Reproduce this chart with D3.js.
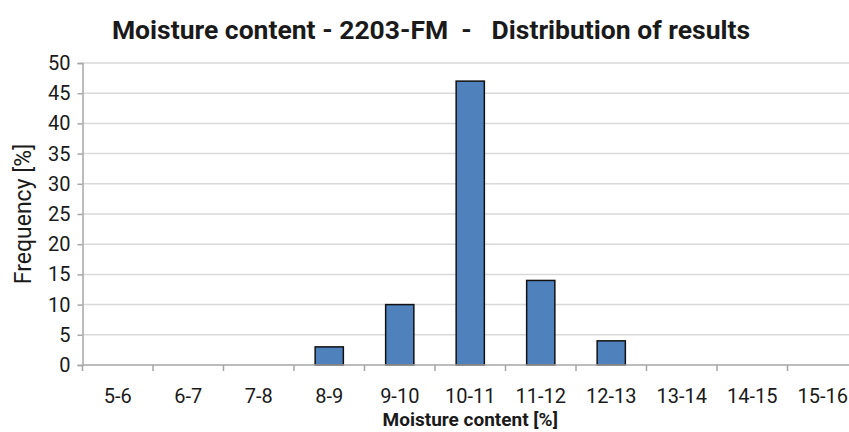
<!DOCTYPE html>
<html>
<head>
<meta charset="utf-8">
<script src="https://cdn.jsdelivr.net/npm/d3@7"></script>
<style>
  body { margin: 0; background: #fff; }
  text { font-family: Roboto, "Liberation Sans", sans-serif; fill: #1a1a1a; }
</style>
</head>
<body>
<div id="chart"></div>
<script>
// Data
const categories = ["5-6", "6-7", "7-8", "8-9", "9-10", "10-11", "11-12", "12-13", "13-14", "14-15", "15-16"];
const frequency = [0, 0, 0, 3, 10, 47, 14, 4, 0, 0, 0];
const yTicks = [0, 5, 10, 15, 20, 25, 30, 35, 40, 45, 50];

const width = 849;
const height = 432;
// the original plot area runs past the right edge of the picture
const margin = { top: 63, right: -9, bottom: 67, left: 82.5 };

const svg = d3.select("#chart")
    .append("svg")
    .attr("width", width)
    .attr("height", height);

const xScale = d3.scaleBand()
    .domain(categories)
    .range([margin.left, width - margin.right])
    .paddingInner(0.6)
    .paddingOuter(0.3);

const yScale = d3.scaleLinear()
    .domain([0, 50])
    .range([height - margin.bottom, margin.top]);

// Horizontal gridlines
svg.append("g")
    .selectAll("line")
    .data(yTicks.filter(d => d > 0))
    .enter()
    .append("line")
    .attr("x1", margin.left)
    .attr("x2", width - margin.right)
    .attr("y1", d => yScale(d))
    .attr("y2", d => yScale(d))
    .attr("stroke", "#d9d9d9")
    .attr("stroke-width", 1.5);

// Bars (empty classes draw nothing)
const bars = categories.map((c, i) => ({ cat: c, value: frequency[i] }));
svg.append("g")
    .selectAll("rect")
    .data(bars.filter(d => d.value > 0))
    .enter()
    .append("rect")
    .attr("x", d => xScale(d.cat))
    .attr("y", d => yScale(d.value))
    .attr("width", xScale.bandwidth())
    .attr("height", d => yScale(0) - yScale(d.value))
    .attr("fill", "#4f81bd")
    .attr("stroke", "#111")
    .attr("stroke-width", 1.5);

// Y axis
const yAxis = d3.axisLeft(yScale)
    .tickValues(yTicks)
    .tickSize(5)
    .tickPadding(7);
const gy = svg.append("g")
    .attr("transform", `translate(${margin.left},0)`)
    .call(yAxis);
gy.select(".domain").attr("stroke", "#a6a6a6").attr("stroke-width", 1.5);
gy.selectAll(".tick line").attr("stroke", "#a6a6a6").attr("stroke-width", 1.5);
gy.selectAll(".tick text")
    .style("font-size", "20px")
    .style("font-family", "Roboto, sans-serif")
    .attr("fill", "#1a1a1a");

// X axis: ticks on the category boundaries
const step = xScale.step();
const boundaries = d3.range(categories.length + 1).map(i => margin.left + i * step);
const gx = svg.append("g");
gx.append("line")
    .attr("x1", margin.left)
    .attr("x2", width - margin.right)
    .attr("y1", yScale(0))
    .attr("y2", yScale(0))
    .attr("stroke", "#a6a6a6")
    .attr("stroke-width", 1.5);
gx.selectAll(".btick")
    .data(boundaries)
    .enter()
    .append("line")
    .attr("class", "btick")
    .attr("x1", d => d)
    .attr("x2", d => d)
    .attr("y1", yScale(0))
    .attr("y2", yScale(0) + 6)
    .attr("stroke", "#a6a6a6")
    .attr("stroke-width", 1.5);
gx.selectAll(".xlabel")
    .data(categories)
    .enter()
    .append("text")
    .attr("class", "xlabel")
    .attr("x", d => xScale(d) + xScale.bandwidth() / 2)
    .attr("y", yScale(0) + 38)
    .style("text-anchor", "middle")
    .style("font-size", "20px")
    .text(d => d);

// Axis titles
svg.append("text")
    .attr("x", (margin.left + width - margin.right) / 2)
    .attr("y", 426)
    .style("text-anchor", "middle")
    .style("font-weight", "bold")
    .style("font-size", "19px")
    .text("Moisture content [%]");

svg.append("text")
    .attr("transform", `translate(31,${yScale(25)}) rotate(-90)`)
    .style("text-anchor", "middle")
    .style("font-size", "23px")
    .text("Frequency [%]");

// Chart title
svg.append("text")
    .attr("x", 431)
    .attr("y", 39)
    .style("text-anchor", "middle")
    .style("font-weight", "bold")
    .style("font-size", "26.5px")
    .style("white-space", "pre")
    .text("Moisture content - 2203-FM  -   Distribution of results");
</script>
</body>
</html>
